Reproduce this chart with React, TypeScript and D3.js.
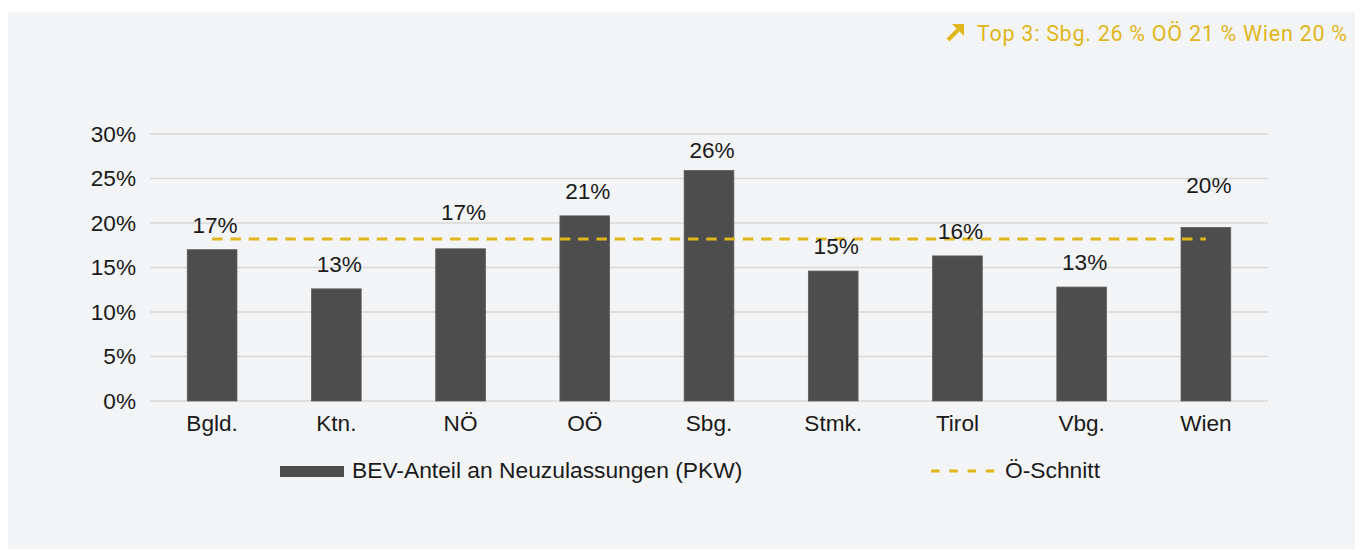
import React from "react";
import * as d3 from "d3";

const categories = ["Bgld.", "Ktn.", "NÖ", "OÖ", "Sbg.", "Stmk.", "Tirol", "Vbg.", "Wien"];
const bevShare = [0.17, 0.126, 0.171, 0.208, 0.259, 0.146, 0.163, 0.128, 0.195];
const valueLabels = ["17%", "13%", "17%", "21%", "26%", "15%", "16%", "13%", "20%"];
const average = 0.182;
const yTicks = [0, 0.05, 0.1, 0.15, 0.2, 0.25, 0.3];
const seriesName = "BEV-Anteil an Neuzulassungen (PKW)";
const averageName = "Ö-Schnitt";
const topNote = "Top 3: Sbg. 26 % OÖ 21 % Wien 20 %";

// extra vertical lift of some value labels (manual placement in original)
const labelLift: Record<string, number> = { "NÖ": 12, "Sbg.": -5, "Wien": 17 };

const W = 1363;
const H = 550;
const FONT = "'Liberation Sans', Arial, sans-serif";
const FS = 22.6;
const BAR = "#4d4d4d";
const GOLD = "#e0b71b";
const GRID = "#d9d9d9";

export default function App() {
  const x = d3.scaleBand<string>().domain(categories).range([150, 1268]).paddingInner(0.6).paddingOuter(0.3);
  const y = d3.scaleLinear().domain([0, 0.3]).range([401, 134]);
  const fmt = d3.format(".0%");
  const first = x(categories[0])! + x.bandwidth() / 2;
  const last = x(categories[categories.length - 1])! + x.bandwidth() / 2;

  return (
    <svg width={W} height={H} style={{ position: "absolute", left: 0, top: 0 }} fontFamily={FONT}>
      <rect x={8} y={12} width={1347} height={537} fill="#f3f4f6" />

      {/* top note */}
      <g>
        <line x1={948} y1={40} x2={958} y2={30} stroke={GOLD} strokeWidth={4} />
        <polygon points="964,24 952,24 964,36" fill={GOLD} />
        <text
          x={977}
          y={41}
          textLength={370}
          lengthAdjust="spacing"
          fontFamily="Roboto, 'DejaVu Sans Condensed', sans-serif"
          fontSize={21.5}
          fill={GOLD}
        >
          {topNote}
        </text>
      </g>

      {/* grid + y ticks */}
      {yTicks.map((t) => (
        <g key={t}>
          <line x1={150} x2={1268} y1={y(t)} y2={y(t)} stroke={GRID} strokeWidth={1.6} />
          <text x={136} y={y(t)} dy="0.35em" textAnchor="end" fontSize={FS} fill="#1a1a1a">
            {fmt(t)}
          </text>
        </g>
      ))}

      {/* bars */}
      {categories.map((c, i) => (
        <rect
          key={c}
          x={x(c)}
          y={y(bevShare[i])}
          width={x.bandwidth()}
          height={y(0) - y(bevShare[i])}
          fill={BAR}
          stroke="#5c5c5c"
          strokeWidth={0.8}
        />
      ))}

      {/* average line */}
      <line x1={first} x2={last} y1={y(average)} y2={y(average)} stroke={GOLD} strokeWidth={3} strokeDasharray="10.5 7.8" />

      {/* value labels */}
      {categories.map((c, i) => (
        <text
          key={c}
          x={x(c)! + x.bandwidth() / 2 + 3}
          y={y(bevShare[i]) - 17 - (labelLift[c] || 0)}
          textAnchor="middle"
          fontSize={FS}
          fill="#1a1a1a"
        >
          {valueLabels[i]}
        </text>
      ))}

      {/* category labels */}
      {categories.map((c) => (
        <text key={c} x={x(c)! + x.bandwidth() / 2} y={431} textAnchor="middle" fontSize={FS} fill="#1a1a1a">
          {c}
        </text>
      ))}

      {/* legend */}
      <rect x={280} y={466} width={64} height={11} fill={BAR} />
      <text x={352} y={478} fontSize={22.8} fill="#1a1a1a">
        {seriesName}
      </text>
      <line x1={931} x2={996} y1={471} y2={471} stroke={GOLD} strokeWidth={3} strokeDasharray="8.5 9.8" />
      <text x={1005} y={478} fontSize={22.8} fill="#1a1a1a">
        {averageName}
      </text>
    </svg>
  );
}
